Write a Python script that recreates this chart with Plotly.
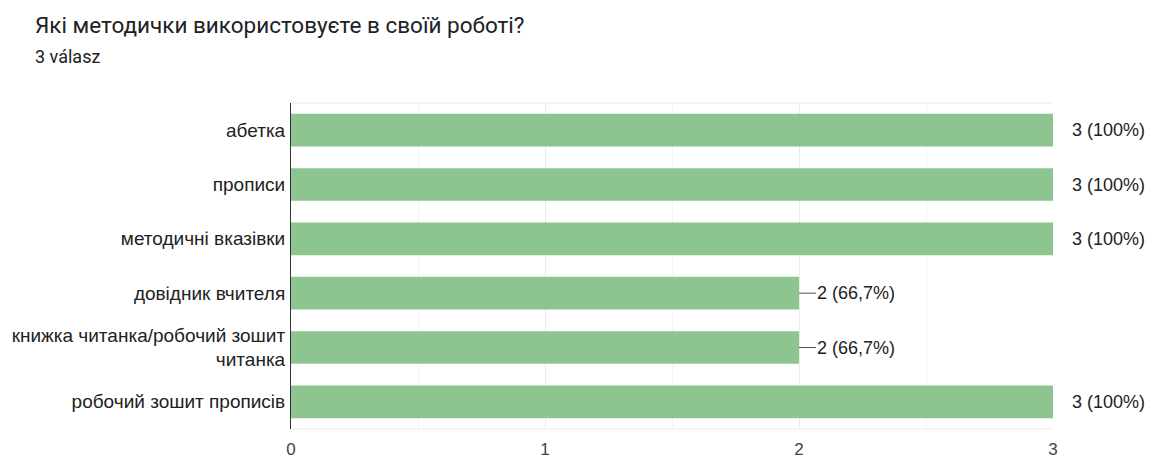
import plotly.graph_objects as go

categories = [
    "абетка",
    "прописи",
    "методичні вказівки",
    "довідник вчителя",
    "книжка читанка/робочий зошит<br>читанка",
    "робочий зошит прописів",
]
counts = [3, 3, 3, 2, 2, 3]
labels = ["3 (100%)", "3 (100%)", "3 (100%)", "2 (66,7%)", "2 (66,7%)", "3 (100%)"]
x_ticks = [0, 1, 2, 3]

BAR = "#8cc590"
TXT = "#222222"
ARIAL = "Liberation Sans, Arial, sans-serif"
W, H = 1153, 459

fig = go.Figure(
    go.Bar(
        x=counts,
        y=categories,
        orientation="h",
        marker=dict(color=BAR, line=dict(width=0)),
        width=0.6,
        hoverinfo="skip",
    )
)

# value labels with short stems, placed right of each bar
for cat, val, lab in zip(categories, counts, labels):
    long_stem = val < max(counts)
    stem = 17 if long_stem else 4
    fig.add_shape(
        type="line",
        xref="x", yref="y",
        xsizemode="pixel", xanchor=val,
        x0=0, x1=stem, y0=cat, y1=cat,
        line=dict(color="#555555" if long_stem else "#cccccc", width=1),
    )
    fig.add_annotation(
        x=val, y=cat, xref="x", yref="y",
        text=lab, showarrow=False,
        xanchor="left", yanchor="middle",
        xshift=16 if long_stem else 17,
        font=dict(family=ARIAL, size=18, color=TXT),
    )

# plot frame (top / bottom border lines)
fig.add_shape(type="line", xref="paper", yref="paper", x0=0, x1=1, y0=1, y1=1,
              line=dict(color="#ebebeb", width=1))
fig.add_shape(type="line", xref="paper", yref="paper", x0=0, x1=1, y0=0, y1=0,
              line=dict(color="#ebebeb", width=1))

# heading and response count
L, R, T, B = 291, 100, 103, 30
def paper_x(px):
    return (px - L) / (W - L - R)
def paper_y(py):
    return (H - B - py) / (H - T - B)

fig.add_annotation(
    x=paper_x(33), y=paper_y(25), xref="paper", yref="paper",
    text="Які методички використовуєте в своїй роботі?",
    showarrow=False, xanchor="left", yanchor="middle",
    font=dict(family="Roboto, Open Sans, sans-serif", size=22.5, color="#202124"),
)
fig.add_annotation(
    x=paper_x(33), y=paper_y(57), xref="paper", yref="paper",
    text="3 válasz",
    showarrow=False, xanchor="left", yanchor="middle",
    font=dict(family="Roboto, Open Sans, sans-serif", size=18, color="#202124"),
)

fig.update_layout(
    width=W, height=H,
    margin=dict(l=L, r=R, t=T, b=B, autoexpand=False),
    paper_bgcolor="white", plot_bgcolor="white",
    showlegend=False,
    xaxis=dict(
        range=[0, 3],
        tickvals=x_ticks,
        ticktext=[str(t) for t in x_ticks],
        showgrid=True, gridcolor="#ebebeb", gridwidth=1,
        minor=dict(dtick=0.5, showgrid=True, gridcolor="#f3f3f3", gridwidth=1),
        zeroline=False, showline=False,
        ticks="", ticklabelstandoff=8,
        tickfont=dict(family=ARIAL, size=17, color="#444444"),
        automargin=False,
        fixedrange=True,
    ),
    yaxis=dict(
        categoryorder="array", categoryarray=categories,
        autorange="reversed",
        showgrid=False, zeroline=False,
        showline=True, linecolor="#333333", linewidth=1,
        ticks="", ticklabelstandoff=1,
        tickfont=dict(family=ARIAL, size=19, color=TXT),
        automargin=False,
        fixedrange=True,
    ),
)

fig.write_html("out.html")
